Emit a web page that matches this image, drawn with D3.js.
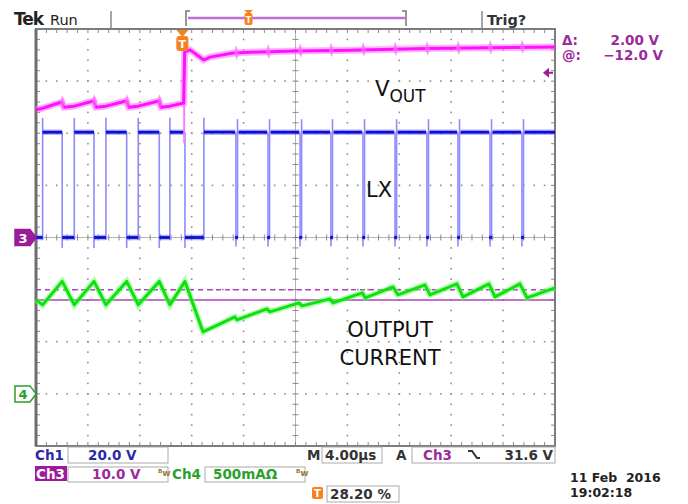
<!DOCTYPE html>
<html>
<head>
<meta charset="utf-8">
<script src="https://cdn.jsdelivr.net/npm/d3@7"></script>
<style>
body { margin: 0; background: #fff; }
svg { display: block; }
text { font-family: "DejaVu Sans", sans-serif; white-space: pre; }
</style>
</head>
<body>
<div id="scope"></div>
<script>
// scope settings
const timePerDiv = 4;        // µs / div
const trigPos = 0.282;       // 28.20 %
const ch1Scale = 20;         // V / div
const ch3Scale = 10;         // V / div
const ch4Scale = 0.5;        // A / div
const ch4Ref = -3;           // div from centre
const trigLevel = 31.6;      // V on ch3
const cursorV = [-12.0, -10.0];  // solid, dashed (ch3 volts)

// Ch1 (LX) switching edges, µs
const ch1Levels = [0, 40.4];
const ch1Rise = [-10.77, -8.33, -5.89, -3.40, -0.96, 1.66];
const ch1Fall = [-9.26, -6.81, -4.29, -1.78, 0.20];
const ch1Dips = [4.13, 6.60, 9.07, 11.45, 13.92, 16.39, 18.85, 21.24, 23.71, 26.17];

// Ch3 (VOUT)
const ch3T = [-11.28, -10.77, -9.30, -9.13, -8.33, -6.85, -6.66, -5.89, -4.33, -4.12, -3.40, -1.82, -1.65, -0.96, 0.10,
              0.18, 0.59, 1.13, 1.66, 2.13, 3.90, 5.98, 8.83, 12.92, 18.85, 28.72];
const ch3V = [24.5, 24.8, 26.0, 25.0, 25.2, 26.2, 25.0, 25.2, 26.2, 25.0, 25.2, 26.2, 25.0, 25.2, 25.8,
              35.6, 36.0, 35.0, 34.05, 34.6, 35.4, 35.6, 35.8, 35.9, 36.25, 36.55];
const ch3SpikeT = [-9.26, -6.81, -4.29, -1.78, 4.13, 6.60, 9.07, 11.45, 13.92, 16.39, 18.85, 21.24, 23.71, 26.17];
const ch3SpikeV = [25.8, 26.0, 26.0, 26.0, 35.4, 35.6, 35.8, 35.9, 36.0, 36.1, 36.2, 36.3, 36.4, 36.5];
const ch3Jump = [0.14, 18.1, 37.9];   // time, bottom, top

// Ch4 (output current)
const ch4T = [-11.28, -10.77, -9.26, -8.33, -6.81, -5.89, -4.29, -3.40, -1.78, -0.96, 0.20, 1.59,
              4.05, 4.21, 6.52, 6.75, 8.99, 9.22, 11.38, 11.61, 13.87, 14.10, 16.23, 16.62,
              18.70, 19.08, 21.16, 21.63, 23.63, 24.09, 26.02, 26.56, 28.72];
const ch4I = [0.902, 0.854, 1.079, 0.854, 1.079, 0.854, 1.079, 0.854, 1.079, 0.854, 1.079, 0.595,
              0.739, 0.710, 0.815, 0.787, 0.873, 0.844, 0.911, 0.873, 0.969, 0.921, 1.026, 0.950,
              1.046, 0.950, 1.055, 0.930, 1.055, 0.930, 1.055, 0.921, 1.017];

const W = 688, H = 504;
const L = 36, R = 555, T = 29, B = 446;
const tStart = -trigPos * timePerDiv * 10;
const tEnd = tStart + timePerDiv * 10;

const svg = d3.select("#scope").append("svg").attr("width", W).attr("height", H);
svg.append("rect").attr("width", W).attr("height", H).attr("fill", "#fff");

const gx = d3.scaleLinear().domain([0, 10]).range([L, R]);
const gy = d3.scaleLinear().domain([-4, 4]).range([B, T]);
const x = d3.scaleLinear().domain([tStart, tEnd]).range([L, R]);
const y1 = v => gy(v / ch1Scale);
const y3 = v => gy(v / ch3Scale);
const y4 = i => gy(i / ch4Scale + ch4Ref);

// graticule
const grid = svg.append("g");
const dots = [];
for (let i = 1; i < 10; i++) {
    if (i === 5) continue;
    for (let k = 0; k <= 40; k++) dots.push([gx(i), gy(-4 + k * 0.2)]);
}
for (let j = -3; j <= 3; j++) {
    if (j === 0) continue;
    for (let k = 0; k <= 50; k++) dots.push([gx(k * 0.2), gy(j)]);
}
grid.selectAll(".dot").data(dots).enter().append("rect")
    .attr("x", d => d[0] - 0.8).attr("y", d => d[1] - 0.8)
    .attr("width", 1.6).attr("height", 1.6).attr("fill", "#8e8e8e");

grid.append("line").attr("x1", gx(5)).attr("x2", gx(5)).attr("y1", T).attr("y2", B)
    .attr("stroke", "#b4b4b4").attr("stroke-width", 1);
grid.append("line").attr("x1", L).attr("x2", R).attr("y1", gy(0)).attr("y2", gy(0))
    .attr("stroke", "#b4b4b4").attr("stroke-width", 1);

const ticks = [];
for (let k = 0; k <= 40; k++) {
    const yy = gy(-4 + k * 0.2);
    ticks.push([gx(5) - 3, yy, gx(5) + 3, yy]);
    ticks.push([L, yy, L + 4, yy]);
    ticks.push([R - 4, yy, R, yy]);
}
for (let k = 0; k <= 50; k++) {
    const xx = gx(k * 0.2);
    ticks.push([xx, gy(0) - 3, xx, gy(0) + 3]);
    ticks.push([xx, T, xx, T + 4]);
    ticks.push([xx, B - 4, xx, B]);
}
grid.selectAll(".tick").data(ticks).enter().append("line")
    .attr("x1", d => d[0]).attr("y1", d => d[1]).attr("x2", d => d[2]).attr("y2", d => d[3])
    .attr("stroke", "#8a8a8a").attr("stroke-width", 1);

grid.append("rect").attr("x", L).attr("y", T).attr("width", R - L).attr("height", B - T)
    .attr("fill", "none").attr("stroke", "#7c7c7c").attr("stroke-width", 2);
grid.append("line").attr("x1", L).attr("x2", L).attr("y1", T).attr("y2", B)
    .attr("stroke", "#6e6e6e").attr("stroke-width", 3);

// cursors
svg.append("line").attr("x1", L).attr("x2", R).attr("y1", y3(cursorV[0])).attr("y2", y3(cursorV[0]))
    .attr("stroke", "#b040c0").attr("stroke-width", 1.5);
svg.append("line").attr("x1", L).attr("x2", R).attr("y1", y3(cursorV[1])).attr("y2", y3(cursorV[1]))
    .attr("stroke", "#b040c0").attr("stroke-width", 1.5).attr("stroke-dasharray", "5,4");

// Ch1 LX
const hiSegs = ch1Fall.map((f, i) => [ch1Rise[i], f]);
let s = ch1Rise[ch1Rise.length - 1];
ch1Dips.forEach(d => { hiSegs.push([s, d - 0.06]); s = d + 0.2; });
hiSegs.push([s, tEnd]);
const loSegs = [[tStart, ch1Rise[0]]];
ch1Fall.forEach((f, i) => loSegs.push([f, ch1Rise[i + 1]]));
ch1Dips.forEach(d => loSegs.push([d - 0.06, d + 0.16]));

const lx = svg.append("g");
const edges = [];
ch1Rise.forEach(t => edges.push([t, ch1Levels[0] - 1, ch1Levels[1] + 5.5]));
ch1Fall.forEach(t => edges.push([t, ch1Levels[1], ch1Levels[0] - 4]));
ch1Dips.forEach(t => {
    edges.push([t, ch1Levels[1], ch1Levels[0] - 3.5]);
    edges.push([t + 0.12, ch1Levels[0], ch1Levels[1] + 5]);
});
lx.selectAll(".edge").data(edges).enter().append("line")
    .attr("x1", d => x(d[0])).attr("x2", d => x(d[0]))
    .attr("y1", d => y1(d[1])).attr("y2", d => y1(d[2]))
    .attr("stroke", "#8c8cff").attr("stroke-width", 1.6);

const segs = hiSegs.map(d => [d[0], d[1], ch1Levels[1]]).concat(loSegs.map(d => [d[0], d[1], ch1Levels[0]]));
lx.selectAll(".fuzz").data(segs).enter().append("line")
    .attr("x1", d => x(d[0])).attr("x2", d => x(d[1]))
    .attr("y1", d => y1(d[2])).attr("y2", d => y1(d[2]))
    .attr("stroke", "#5a5aff").attr("stroke-width", 5.5).attr("opacity", 0.45);
lx.selectAll(".lvl").data(segs).enter().append("line")
    .attr("x1", d => x(d[0])).attr("x2", d => x(d[1]))
    .attr("y1", d => y1(d[2])).attr("y2", d => y1(d[2]))
    .attr("stroke", "#0e0ed2").attr("stroke-width", 2.8);

// Ch4 current
const ch4 = ch4T.map((t, i) => [t, ch4I[i]]);
const line4 = d3.line().x(d => x(d[0])).y(d => y4(d[1]));
svg.append("path").datum(ch4).attr("d", line4).attr("fill", "none")
    .attr("stroke", "#66ff66").attr("stroke-width", 6).attr("opacity", 0.5);
svg.append("path").datum(ch4).attr("d", line4).attr("fill", "none")
    .attr("stroke", "#10e010").attr("stroke-width", 3).attr("stroke-linejoin", "round");

// Ch3 VOUT
const ch3 = ch3T.map((t, i) => [t, ch3V[i]]);
const line3 = d3.line().x(d => x(d[0])).y(d => y3(d[1]));
svg.append("line").attr("x1", x(ch3Jump[0])).attr("x2", x(ch3Jump[0]))
    .attr("y1", y3(ch3Jump[1])).attr("y2", y3(ch3Jump[2]))
    .attr("stroke", "#ff7cff").attr("stroke-width", 2);
svg.append("path").datum(ch3).attr("d", line3).attr("fill", "none")
    .attr("stroke", "#ff77ff").attr("stroke-width", 7).attr("opacity", 0.55);
svg.append("path").datum(ch3).attr("d", line3).attr("fill", "none")
    .attr("stroke", "#ff10ff").attr("stroke-width", 3).attr("stroke-linejoin", "round");
const spikes = ch3SpikeT.map((t, i) => [t, ch3SpikeV[i]]);
svg.selectAll(".spike").data(spikes).enter().append("path")
    .attr("d", d => {
        const cx = x(d[0]), cy = y3(d[1]);
        return `M${cx - 2},${cy} L${cx},${cy - 8} L${cx + 3},${cy} L${cx + 1},${cy + 7} Z`;
    })
    .attr("fill", "#ff66ff").attr("opacity", 0.7);

// trace labels
const lab = svg.append("g").attr("fill", "#111");
lab.append("text").attr("x", 375).attr("y", 96).attr("font-size", 21).attr("font-family", "'Open Sans', sans-serif")
    .text("V").append("tspan").attr("font-size", 17).attr("dy", 6).text("OUT");
lab.append("text").attr("x", 366).attr("y", 197).attr("font-size", 21).attr("font-family", "'Open Sans', sans-serif").text("LX");
lab.append("text").attr("x", 390).attr("y", 337).attr("font-size", 21).attr("text-anchor", "middle")
    .attr("font-family", "'Open Sans', sans-serif").text("OUTPUT");
lab.append("text").attr("x", 390).attr("y", 365).attr("font-size", 21).attr("text-anchor", "middle")
    .attr("font-family", "'Open Sans', sans-serif").text("CURRENT");

// channel markers
const mk = (yc, fill, stroke, txtCol, label) => {
    svg.append("path")
        .attr("d", `M15,${yc - 8} L30,${yc - 8} L36,${yc} L30,${yc + 8} L15,${yc + 8} Z`)
        .attr("fill", fill).attr("stroke", stroke).attr("stroke-width", 1.5);
    svg.append("text").attr("x", 23).attr("y", yc + 5).attr("text-anchor", "middle")
        .attr("font-size", 13).attr("font-weight", "bold").attr("fill", txtCol).text(label);
};
mk(gy(0), "#9b1b9b", "#9b1b9b", "#fff", "3");
mk(gy(ch4Ref), "#fff", "#2ca02c", "#2ca02c", "4");

// trigger marker (top)
const tx = x(0);
svg.append("path").attr("d", `M${tx - 6},${T + 1} L${tx + 6},${T + 1} L${tx},${T + 8} Z`).attr("fill", "#f5821f");
svg.append("rect").attr("x", tx - 6).attr("y", T + 7).attr("width", 12).attr("height", 15).attr("rx", 3)
    .attr("fill", "#f5821f");
svg.append("text").attr("x", tx).attr("y", T + 19).attr("text-anchor", "middle").attr("font-size", 11)
    .attr("font-weight", "bold").attr("fill", "#fff").text("T");

// trigger level arrow
const ty = y3(trigLevel);
svg.append("path").attr("d", `M${R - 12},${ty} L${R - 6},${ty - 5} L${R - 6},${ty + 5} Z`).attr("fill", "#9b1b9b");
svg.append("line").attr("x1", R - 7).attr("x2", R - 2).attr("y1", ty).attr("y2", ty)
    .attr("stroke", "#9b1b9b").attr("stroke-width", 2);

// top status bar
svg.append("text").attr("x", 14).attr("y", 25).attr("font-size", 17).attr("font-weight", "bold")
    .attr("letter-spacing", -1).attr("fill", "#222").text("Tek");
svg.append("text").attr("x", 50).attr("y", 25).attr("font-size", 14.5).attr("fill", "#222").text("Run");
svg.append("text").attr("x", 487).attr("y", 25).attr("font-size", 14.5).attr("font-weight", "bold")
    .attr("fill", "#333").text("Trig?");
[111, 482].forEach(xx => svg.append("line").attr("x1", xx).attr("x2", xx).attr("y1", 11).attr("y2", 28)
    .attr("stroke", "#888").attr("stroke-width", 1.5));
svg.append("line").attr("x1", 188).attr("x2", 405).attr("y1", 18).attr("y2", 18)
    .attr("stroke", "#c070d0").attr("stroke-width", 2.5);
svg.append("path").attr("d", "M190,11 L186,11 L186,26 M402,11 L406,11 L406,26")
    .attr("fill", "none").attr("stroke", "#777").attr("stroke-width", 1.5);
svg.append("path").attr("d", "M244,10 L253,10 L248.5,14 Z").attr("fill", "#f5821f");
svg.append("rect").attr("x", 244.5).attr("y", 13).attr("width", 8).attr("height", 12).attr("rx", 2).attr("fill", "#f5821f");
svg.append("text").attr("x", 248.5).attr("y", 23).attr("text-anchor", "middle").attr("font-size", 8)
    .attr("font-weight", "bold").attr("fill", "#fff").text("T");

// cursor readouts
const pur = "#9c2a9c";
const rd = (xx, yy, txt, col, anchor, size) => svg.append("text").attr("x", xx).attr("y", yy)
    .attr("font-size", size || 13.5).attr("font-weight", "bold").attr("fill", col)
    .attr("text-anchor", anchor || "start").text(txt);
rd(562, 45, "Δ:", pur);
rd(659, 45, "2.00 V", pur, "end");
rd(562, 60, "@:", pur);
rd(663, 60, "\u221212.0 V", pur, "end");

// bottom readouts
const box = (x0, y0, w, h) => svg.append("rect").attr("x", x0).attr("y", y0).attr("width", w).attr("height", h)
    .attr("fill", "#fff").attr("stroke", "#aaa").attr("stroke-width", 1);
const blue = "#2a2aa8", green = "#2ca02c";
box(68, 447, 100, 16); box(322, 447, 60, 16); box(412, 447, 143, 16);
box(68, 467, 100, 15); box(205, 467, 100, 15); box(327, 486, 72, 16);
rd(35, 460, "Ch1", blue);
rd(88, 460, "20.0 V", blue);
rd(307, 460, "M", "#333");
rd(325, 460, "4.00µs", "#333");
rd(396, 460, "A", "#333");
rd(423, 460, "Ch3", pur);
svg.append("path").attr("d", "M468,451 L472,451 L477,458 L480,458").attr("fill", "none")
    .attr("stroke", "#333").attr("stroke-width", 2);
rd(553, 460, "31.6 V", "#333", "end");
svg.append("rect").attr("x", 35).attr("y", 466).attr("width", 32).attr("height", 15).attr("fill", "#9b1b9b");
rd(36, 479, "Ch3", "#fff");
rd(92, 479, "10.0 V", pur);
rd(158, 476, "ᴮw", "#9c7a3a", "start", 9);
rd(172, 479, "Ch4", green);
rd(213, 479, "500mAΩ", green);
rd(296, 476, "ᴮw", "#9c7a3a", "start", 9);
svg.append("rect").attr("x", 312).attr("y", 487).attr("width", 11).attr("height", 12).attr("rx", 2).attr("fill", "#f5821f");
svg.append("text").attr("x", 317.5).attr("y", 497).attr("text-anchor", "middle").attr("font-size", 10)
    .attr("font-weight", "bold").attr("fill", "#fff").text("T");
rd(330, 499, "28.20 %", "#333");
rd(570, 482, "11 Feb  2016", "#222", "start", 12.5);
rd(570, 497, "19:02:18", "#222", "start", 12.5);
</script>
</body>
</html>
